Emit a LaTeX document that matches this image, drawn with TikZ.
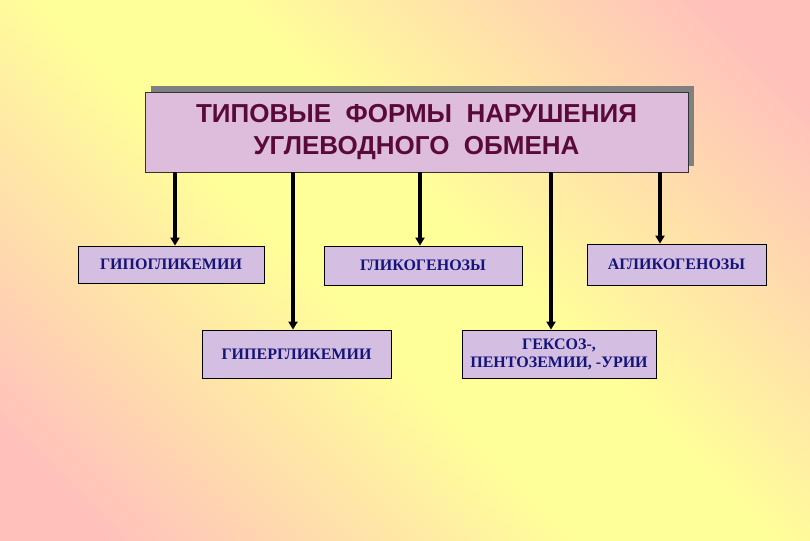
\documentclass[tikz,border=0pt]{standalone}
\usepackage{fontspec}
\setmainfont{Liberation Serif}
\setsansfont{Liberation Sans}
\usepackage{xcolor}
\usepackage{tikz}
\usetikzlibrary{arrows.meta,positioning,shadows}

\definecolor{bgpink}{HTML}{FFC0BC}
\definecolor{bgyellow}{HTML}{FFFF99}
\definecolor{titlefill}{HTML}{DDBCDC}
\definecolor{titletext}{HTML}{5A0A38}
\definecolor{boxfill}{HTML}{D4BEE2}
\definecolor{boxtext}{HTML}{14147A}
\pgfdeclarehorizontalshading{slidebg}{100bp}{color(0bp)=(bgpink); color(20bp)=(bgpink); color(45bp)=(bgyellow); color(55bp)=(bgyellow); color(80bp)=(bgpink); color(100bp)=(bgpink)}

\begin{document}
\begin{tikzpicture}[
    x=1pt, y=1pt,
    titlebox/.style={rectangle, draw=black!80, line width=0.8pt, fill=titlefill,
        minimum width=543pt, minimum height=80pt, align=center,
        font=\sffamily\bfseries\fontsize{26}{33}\selectfont, text=titletext,
        drop shadow={shadow xshift=6pt, shadow yshift=6pt, fill=gray, opacity=1}},
    box/.style={rectangle, draw, line width=0.8pt, fill=boxfill, align=center,
        font=\bfseries\fontsize{16}{18}\selectfont, text=boxtext},
    arrow/.style={-{Triangle[width=9pt,length=8pt]}, line width=3.4pt}
]
\useasboundingbox (0,0) rectangle (810,540);
\shade[shading=slidebg, shading angle=45] (0,0) rectangle (810,540);

\node[titlebox] (title) at (416.5,408) {ТИПОВЫЕ\ \ ФОРМЫ\ \ НАРУШЕНИЯ\\[-1pt]УГЛЕВОДНОГО\ \ ОБМЕНА};

\node[box, minimum width=186pt, minimum height=37pt] (hypo) at (171,275.5) {ГИПОГЛИКЕМИИ};
\node[box, minimum width=198pt, minimum height=39pt] (glyco) at (423,274.5) {ГЛИКОГЕНОЗЫ};
\node[box, minimum width=179pt, minimum height=41pt] (aglyco) at (676.5,275.5) {АГЛИКОГЕНОЗЫ};
\node[box, minimum width=189pt, minimum height=48pt] (hyper) at (296.5,186) {ГИПЕРГЛИКЕМИИ};
\node[box, minimum width=194pt, minimum height=48pt] (hexose) at (559,186) {ГЕКСОЗ-,\\ПЕНТОЗЕМИИ, -УРИИ};

\draw[arrow] ([xshift=4pt]title.south -| hypo.north) -- ([xshift=4pt]hypo.north);
\draw[arrow] ([xshift=-3.5pt]title.south -| hyper.north) -- ([xshift=-3.5pt]hyper.north);
\draw[arrow] ([xshift=-3pt]title.south -| glyco.north) -- ([xshift=-3pt]glyco.north);
\draw[arrow] ([xshift=-8pt]title.south -| hexose.north) -- ([xshift=-8pt]hexose.north);
\draw[arrow] ([xshift=-16.5pt]title.south -| aglyco.north) -- ([xshift=-16.5pt]aglyco.north);
\end{tikzpicture}
\end{document}
